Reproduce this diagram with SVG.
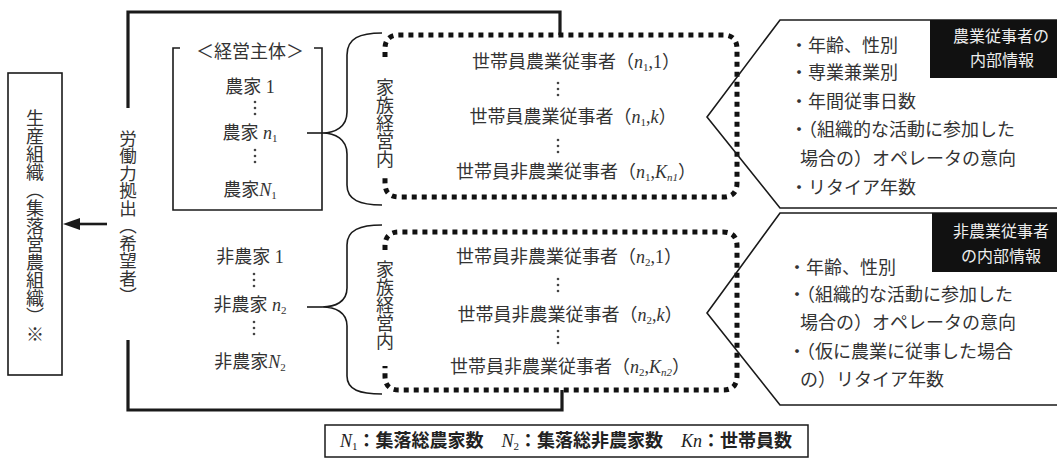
<svg xmlns="http://www.w3.org/2000/svg" width="1057" height="460" viewBox="0 0 1057 460">
<style>
.ln{fill:none;stroke:#1a1a1a;stroke-width:1.6}
.thick{fill:none;stroke:#1a1a1a;stroke-width:3.2}
.dot{fill:none;stroke:#111;stroke-width:5;stroke-dasharray:5 5}
.t{font-family:"Liberation Serif","Noto Sans CJK JP",serif;font-size:18px;fill:#333}
.g{font-family:"Noto Sans CJK JP",sans-serif;font-size:18px;fill:#333}
.w{font-family:"Noto Sans CJK JP",sans-serif;font-size:16px;fill:#eee;text-anchor:middle}
.v{font-family:"Noto Sans CJK JP",sans-serif;font-size:18px;fill:#333;writing-mode:vertical-rl;text-anchor:middle}
.m{text-anchor:middle}
.i{font-style:italic}
.s{font-size:11px}
.e{fill:#444}
.f{font-family:"Liberation Serif","Noto Sans CJK JP",serif;font-size:18px;fill:#222;font-weight:bold;text-anchor:middle}
</style>
<g id="connectors">
<path class="thick" d="M128,108 V12 H560 V35"/>
<path class="thick" d="M128,340 V410 H562 V390"/>
<line x1="107" y1="224" x2="76" y2="224" stroke="#1a1a1a" stroke-width="2.6"/>
<polygon points="63,224 80,218 80,230" fill="#1a1a1a"/>
<line class="ln" x1="307" y1="133" x2="322" y2="133"/>
<line class="ln" x1="307" y1="307" x2="322" y2="307"/>
<path class="ln" d="M382,33 C360,33 347,38 347,55 V112 C347,127 335,133 322,133 C335,133 347,139 347,154 V185 C347,200 360,205 382,205"/>
<path class="ln" d="M382,225 C360,225 347,230 347,245 V288 C347,302 335,307 322,307 C335,307 347,312 347,326 V376 C347,390 360,394 382,394"/>
</g>
<g id="org">
<rect class="ln" x="8" y="73" width="54" height="302"/>
<text class="v" x="35" y="226">生産組織（集落営農組織）※</text>
</g>
<g id="labor">
<text class="v" x="128" y="217" style="font-size:17.5px">労働力拠出（希望者）</text>
</g>
<g id="farms">
<path class="ln" d="M180,48 H173 V210 H322 V48 H314"/>
<text class="t m" x="250" y="58">＜経営主体＞</text>
<text class="t m" x="250" y="93">農家 1</text>
<circle class="e" cx="255" cy="102" r="1.3"/><circle class="e" cx="255" cy="108" r="1.3"/><circle class="e" cx="255" cy="114" r="1.3"/>
<text class="t m" x="250" y="139">農家 <tspan class="i">n</tspan><tspan class="s" dy="3">1</tspan></text>
<circle class="e" cx="255" cy="150" r="1.3"/><circle class="e" cx="255" cy="156" r="1.3"/><circle class="e" cx="255" cy="162" r="1.3"/>
<text class="t m" x="250" y="196">農家<tspan class="i">N</tspan><tspan class="s" dy="3">1</tspan></text>
</g>
<g id="nonfarms">
<text class="t m" x="250" y="263">非農家 1</text>
<circle class="e" cx="254" cy="274" r="1.3"/><circle class="e" cx="254" cy="280" r="1.3"/><circle class="e" cx="254" cy="286" r="1.3"/>
<text class="t m" x="250" y="311">非農家 <tspan class="i">n</tspan><tspan class="s" dy="3">2</tspan></text>
<circle class="e" cx="254" cy="322" r="1.3"/><circle class="e" cx="254" cy="328" r="1.3"/><circle class="e" cx="254" cy="334" r="1.3"/>
<text class="t m" x="250" y="368">非農家<tspan class="i">N</tspan><tspan class="s" dy="3">2</tspan></text>
</g>
<g id="family1">
<path class="dot" d="M385,57 V49 Q385,35 399,35 H723 Q737,35 737,49 V183 Q737,197 723,197 H399 Q385,197 385,183 V178"/>
<text class="v" x="385" y="123">家族経営内</text>
<text class="t m" x="576" y="68">世帯員農業従事者（<tspan class="i">n</tspan><tspan class="s" dy="3">1</tspan><tspan dy="-3">,1）</tspan></text>
<circle class="e" cx="558" cy="83" r="1.3"/><circle class="e" cx="558" cy="89" r="1.3"/><circle class="e" cx="558" cy="95" r="1.3"/>
<text class="t m" x="573" y="123">世帯員農業従事者（<tspan class="i">n</tspan><tspan class="s" dy="3">1</tspan><tspan dy="-3">,</tspan><tspan class="i">k</tspan>）</text>
<circle class="e" cx="558" cy="140" r="1.3"/><circle class="e" cx="558" cy="146" r="1.3"/><circle class="e" cx="558" cy="152" r="1.3"/>
<text class="t m" x="576" y="178">世帯員非農業従事者（<tspan class="i">n</tspan><tspan class="s" dy="3">1</tspan><tspan dy="-3">,</tspan><tspan class="i">K</tspan><tspan class="s i" dy="3">n1</tspan><tspan dy="-3">）</tspan></text>
</g>
<g id="family2">
<path class="dot" d="M385,250 V246 Q385,232 399,232 H723 Q737,232 737,246 V376 Q737,390 723,390 H399 Q385,390 385,376 V366"/>
<text class="v" x="385" y="305">家族経営内</text>
<text class="t m" x="569" y="263">世帯員非農業従事者（<tspan class="i">n</tspan><tspan class="s" dy="3">2</tspan><tspan dy="-3">,1）</tspan></text>
<circle class="e" cx="558" cy="279" r="1.3"/><circle class="e" cx="558" cy="285" r="1.3"/><circle class="e" cx="558" cy="291" r="1.3"/>
<text class="t m" x="570" y="321">世帯員非農業従事者（<tspan class="i">n</tspan><tspan class="s" dy="3">2</tspan><tspan dy="-3">,</tspan><tspan class="i">k</tspan>）</text>
<circle class="e" cx="558" cy="331" r="1.3"/><circle class="e" cx="558" cy="337" r="1.3"/><circle class="e" cx="558" cy="343" r="1.3"/>
<text class="t m" x="570" y="373">世帯員非農業従事者（<tspan class="i">n</tspan><tspan class="s" dy="3">2</tspan><tspan dy="-3">,</tspan><tspan class="i">K</tspan><tspan class="s i" dy="3">n2</tspan><tspan dy="-3">）</tspan></text>
</g>
<g id="info1">
<path class="ln" d="M1057,20 H780 L707,117 L780,208 H1057"/>
<rect x="930" y="20" width="127" height="58" fill="#111"/>
<text class="w" x="1001" y="42">農業従事者の</text>
<text class="w" x="1002" y="66">内部情報</text>
<text class="g" x="790" y="52">・年齢、性別</text>
<text class="g" x="790" y="79">・専業兼業別</text>
<text class="g" x="790" y="108">・年間従事日数</text>
<text class="g" x="790" y="136">・（組織的な活動に参加した</text>
<text class="g" x="800" y="165">場合の）オペレータの意向</text>
<text class="g" x="790" y="194">・リタイア年数</text>
</g>
<g id="info2">
<path class="ln" d="M1057,213 H780 L707,313 L780,405 H1057"/>
<rect x="932" y="213" width="125" height="59" fill="#111"/>
<text class="w" x="1001" y="237">非農業従事者</text>
<text class="w" x="1001" y="262">の内部情報</text>
<text class="g" x="788" y="274">・年齢、性別</text>
<text class="g" x="788" y="301">・（組織的な活動に参加した</text>
<text class="g" x="800" y="329">場合の）オペレータの意向</text>
<text class="g" x="788" y="358">・（仮に農業に従事した場合</text>
<text class="g" x="800" y="386">の）リタイア年数</text>
</g>
<g id="legend">
<rect x="325" y="425" width="483" height="32" fill="none" stroke="#1a1a1a" stroke-width="1.5"/>
<text class="f" x="566" y="447"><tspan class="i" font-weight="normal">N</tspan><tspan class="s" font-weight="normal" dy="3">1</tspan><tspan dy="-3">：集落総農家数　</tspan><tspan class="i" font-weight="normal">N</tspan><tspan class="s" font-weight="normal" dy="3">2</tspan><tspan dy="-3">：集落総非農家数　</tspan><tspan class="i" font-weight="normal">Kn</tspan>：世帯員数</text>
</g>
</svg>
